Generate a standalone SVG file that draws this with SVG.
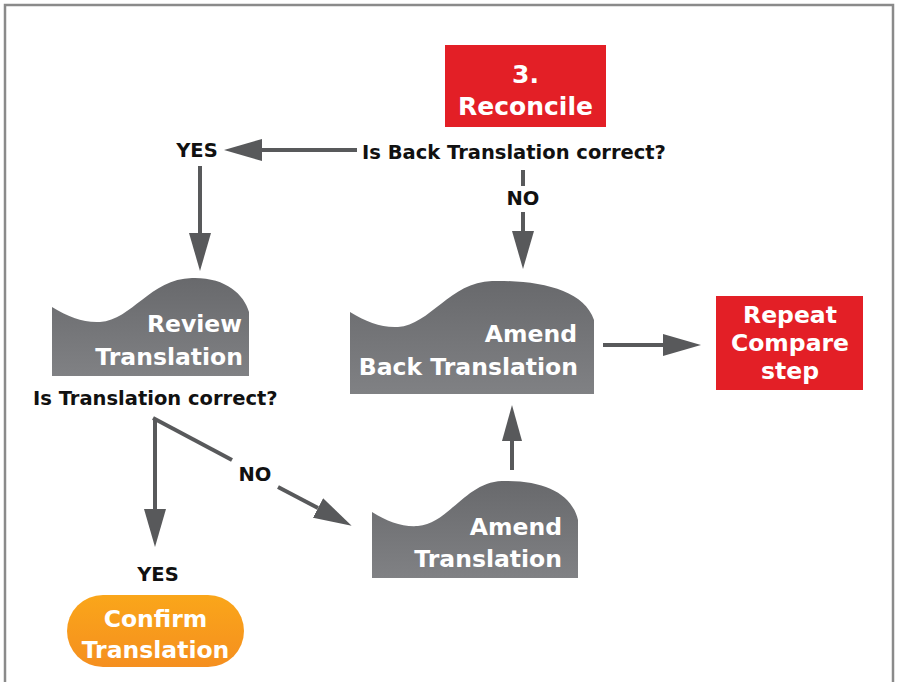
<svg xmlns="http://www.w3.org/2000/svg" width="897" height="682" viewBox="0 0 897 682">
<defs>
<linearGradient id="gray" x1="0" y1="0" x2="0" y2="1">
<stop offset="0" stop-color="#68696c"/>
<stop offset="1" stop-color="#808184"/>
</linearGradient>
<linearGradient id="orange" x1="0" y1="0" x2="0" y2="1">
<stop offset="0" stop-color="#FAA61A"/>
<stop offset="1" stop-color="#F58F1F"/>
</linearGradient>
<marker id="ah" viewBox="0 0 38 22" refX="0" refY="11" markerWidth="38" markerHeight="22" orient="auto" markerUnits="userSpaceOnUse">
<path d="M0,0 L38,11 L0,22 Z" fill="#58595b"/>
</marker>
<marker id="ahs" viewBox="0 0 36 20" refX="0" refY="10" markerWidth="36" markerHeight="20" orient="auto" markerUnits="userSpaceOnUse">
<path d="M0,0 L36,10 L0,20 Z" fill="#58595b"/>
</marker>
</defs>
<style>
.lbl{font-family:"DejaVu Sans","Liberation Sans",sans-serif;font-weight:bold;font-size:19.5px;fill:#111;}
.wt{font-family:"DejaVu Sans","Liberation Sans",sans-serif;font-weight:bold;font-size:23.5px;fill:#fff;}
.conn line{stroke:#58595b;stroke-width:4;fill:none;}
</style>
<rect x="0" y="0" width="897" height="682" fill="#fff"/>
<rect x="5" y="5" width="888" height="710" fill="none" stroke="#8a8a8a" stroke-width="2.5"/>

<g id="reconcile">
<rect x="445" y="45" width="161" height="82" fill="#E31F26"/>
<text class="wt" x="525.5" y="83" text-anchor="middle" style="font-size:25px">3.</text>
<text class="wt" x="525.5" y="115" text-anchor="middle" style="font-size:25px">Reconcile</text>
</g>

<g id="q-back">
<text class="lbl" x="362" y="159">Is Back Translation correct?</text>
</g>
<g id="yes-top">
<text class="lbl" x="197" y="157" text-anchor="middle">YES</text>
</g>
<g id="no-top">
<text class="lbl" x="523" y="205" text-anchor="middle">NO</text>
</g>

<g id="review">
<path d="M52,307 C68,317 84,323 100,322 C132,320 150,279 192,278 C225,277 244,294 249,312 L249,376 L52,376 Z" fill="url(#gray)"/>
<text class="wt" x="242" y="332" text-anchor="end">Review</text>
<text class="wt" x="243" y="365" text-anchor="end">Translation</text>
</g>
<g id="q-trans">
<text class="lbl" x="33" y="405">Is Translation correct?</text>
</g>

<g id="amend-back">
<path d="M350,312 C366,322 382,328 398,327 C430,325 450,282 492,281 C540,280 584,290 594,320 L594,394 L350,394 Z" fill="url(#gray)"/>
<text class="wt" x="577" y="342" text-anchor="end">Amend</text>
<text class="wt" x="578" y="375" text-anchor="end">Back Translation</text>
</g>

<g id="repeat">
<rect x="716" y="296" width="147" height="94" fill="#E31F26"/>
<text class="wt" x="790" y="323" text-anchor="middle">Repeat</text>
<text class="wt" x="790" y="351" text-anchor="middle">Compare</text>
<text class="wt" x="790" y="379" text-anchor="middle">step</text>
</g>

<g id="amend">
<path d="M372,512 C388,522 402,527 418,526 C448,524 466,482 502,481 C545,480 572,494 578,520 L578,578 L372,578 Z" fill="url(#gray)"/>
<text class="wt" x="562" y="535" text-anchor="end">Amend</text>
<text class="wt" x="562" y="567" text-anchor="end">Translation</text>
</g>

<g id="no-mid">
<text class="lbl" x="255" y="481" text-anchor="middle">NO</text>
</g>
<g id="yes-bottom">
<text class="lbl" x="158" y="581" text-anchor="middle">YES</text>
</g>

<g id="confirm">
<rect x="67" y="595" width="177" height="72" rx="36" ry="36" fill="url(#orange)"/>
<text class="wt" x="155.5" y="627" text-anchor="middle">Confirm</text>
<text class="wt" x="155.5" y="658" text-anchor="middle">Translation</text>
</g>

<g id="connectors" class="conn">
<line x1="357" y1="150" x2="262" y2="150" marker-end="url(#ah)"/>
<line x1="200" y1="166" x2="200" y2="233" marker-end="url(#ah)"/>
<line x1="523" y1="170" x2="523" y2="186"/>
<line x1="523" y1="212" x2="523" y2="231" marker-end="url(#ah)"/>
<line x1="603" y1="345" x2="663" y2="345" marker-end="url(#ah)"/>
<line x1="512" y1="470" x2="512" y2="441" marker-end="url(#ahs)"/>
<line x1="155" y1="418" x2="155" y2="509" marker-end="url(#ah)"/>
<line x1="153" y1="418" x2="232" y2="460"/>
<line x1="278" y1="487" x2="318" y2="508" marker-end="url(#ah)"/>
</g>
</svg>
